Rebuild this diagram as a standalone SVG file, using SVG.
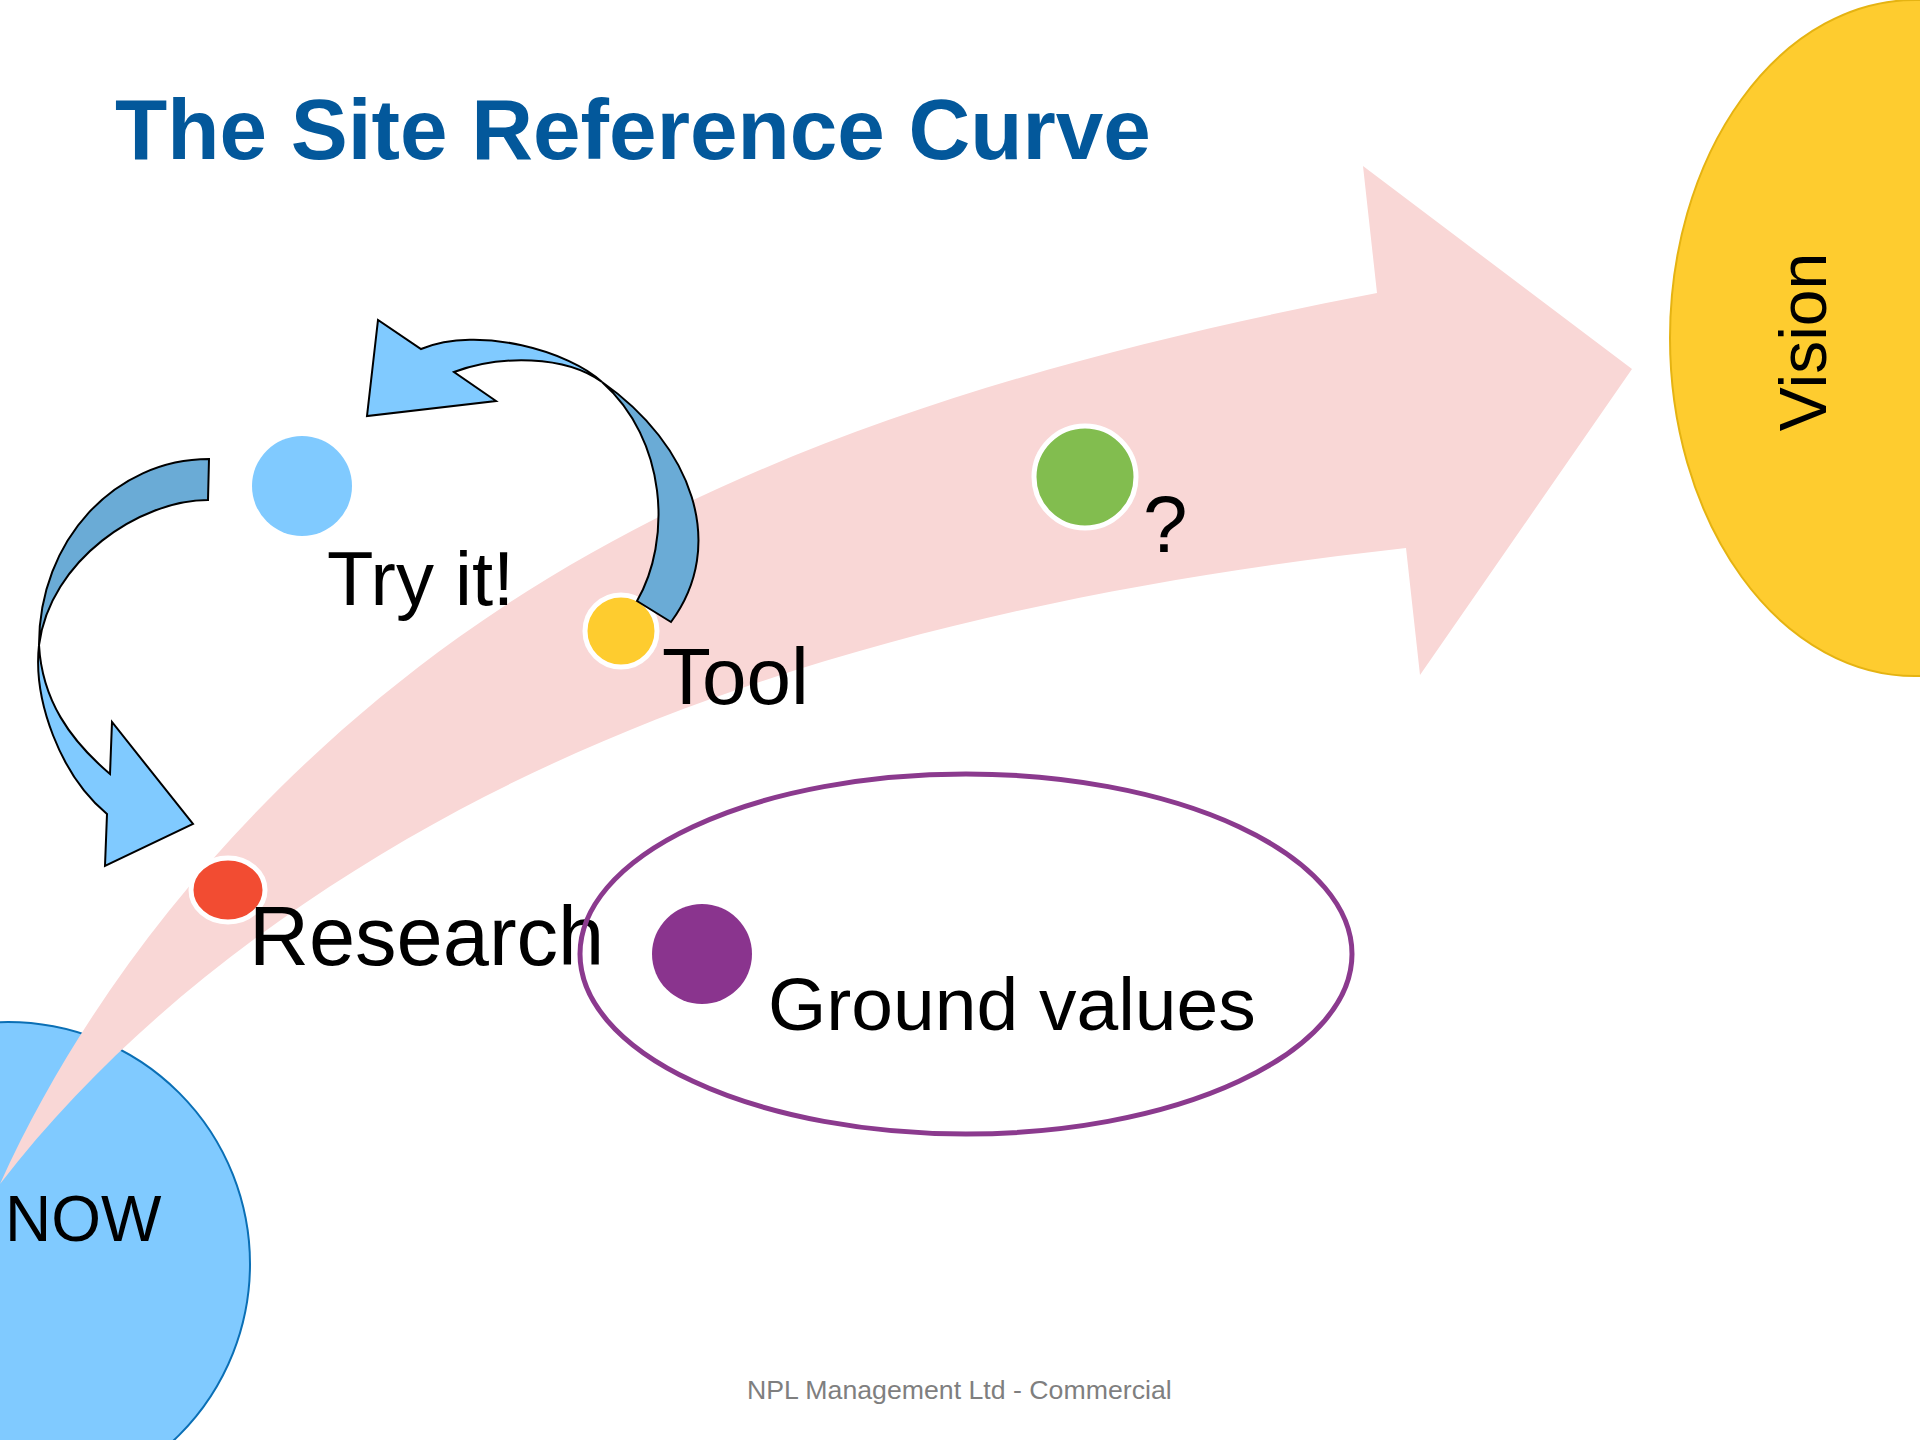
<svg xmlns="http://www.w3.org/2000/svg" width="1920" height="1440" viewBox="0 0 1920 1440">
<style>
.lbl{font-family:"Liberation Sans",Arial,sans-serif;fill:#000}
.ring{stroke:#fff;stroke-width:5}
.bl{fill:#80CAFF;stroke:#000;stroke-width:2;stroke-linejoin:miter}
.bd{fill:#6AABD6;stroke:#000;stroke-width:2;stroke-linejoin:miter}
</style>
<rect width="1920" height="1440" fill="#fff"/>
<text x="115" y="159" font-family="Liberation Sans, Arial, sans-serif" font-weight="bold" font-size="85.5" fill="#03589B">The Site Reference Curve</text>

<g id="now">
<circle cx="8" cy="1264" r="242" fill="#80CAFF" stroke="#0A6FB5" stroke-width="2"/>
</g>

<g id="curve">
<path d="M0,1184 C98,967 266,775 459,637 C724,447 1057,355 1377,293 L1363,166 L1632,369 L1420,675 L1406,548 C1081,584 748,656 459,810 C286,903 120,1028 0,1184 Z" fill="#F9D7D6"/>
</g>

<g id="now-label">
<text class="lbl" x="5" y="1241" font-size="64">NOW</text>
</g>

<g id="vision">
<ellipse cx="1915" cy="338" rx="245" ry="338" fill="#FECC2F" stroke="#E5B312" stroke-width="2"/>
<text class="lbl" transform="translate(1826,342) rotate(-90)" text-anchor="middle" font-size="66">Vision</text>
</g>

<g id="research">
<ellipse cx="228" cy="890" rx="37" ry="32" fill="#F24C32" class="ring"/>
<text class="lbl" x="249" y="965" font-size="83">Research</text>
</g>

<g id="try-it">
<circle cx="302" cy="486" r="50" fill="#80CAFF"/>
<text class="lbl" x="327" y="605" font-size="76">Try it!</text>
</g>

<g id="tool">
<circle cx="621" cy="631" r="36" fill="#FECC2F" class="ring"/>
<text class="lbl" x="662" y="704" font-size="80">Tool</text>
</g>

<g id="question">
<circle cx="1085" cy="477" r="51" fill="#82BD4F" class="ring"/>
<text class="lbl" x="1143" y="552" font-size="80">?</text>
</g>

<g id="ground-values">
<circle cx="702" cy="954" r="50" fill="#8A348E"/>
<text class="lbl" x="768" y="1030" font-size="75">Ground values</text>
<ellipse cx="966" cy="954" rx="386" ry="180" fill="none" stroke="#8B3A8E" stroke-width="5"/>
</g>

<g id="connectors">
<g id="arrow-left">
<path class="bd" d="M209,459 L208,500 C140,500 50,560 39,645 C39,540 115,459 209,459 Z"/>
<path class="bl" d="M39,645 C33,700 60,775 107,814 L105,866 L193,824 L112,722 L110,774 C70,740 42,700 39,645 Z"/>
</g>
<g id="arrow-right">
<path class="bd" d="M602,382 C692,445 728,545 671,622 L637,601 C672,540 667,440 602,382 Z"/>
<path class="bl" d="M602,382 C570,352 480,325 421,349 L378,320 L367,416 L496,401 L454,372 C500,355 565,355 602,382 Z"/>
</g>
</g>

<text x="747" y="1399" font-family="Liberation Sans, Arial, sans-serif" font-size="26.7" fill="#7F7F7F">NPL Management Ltd - Commercial</text>
</svg>
